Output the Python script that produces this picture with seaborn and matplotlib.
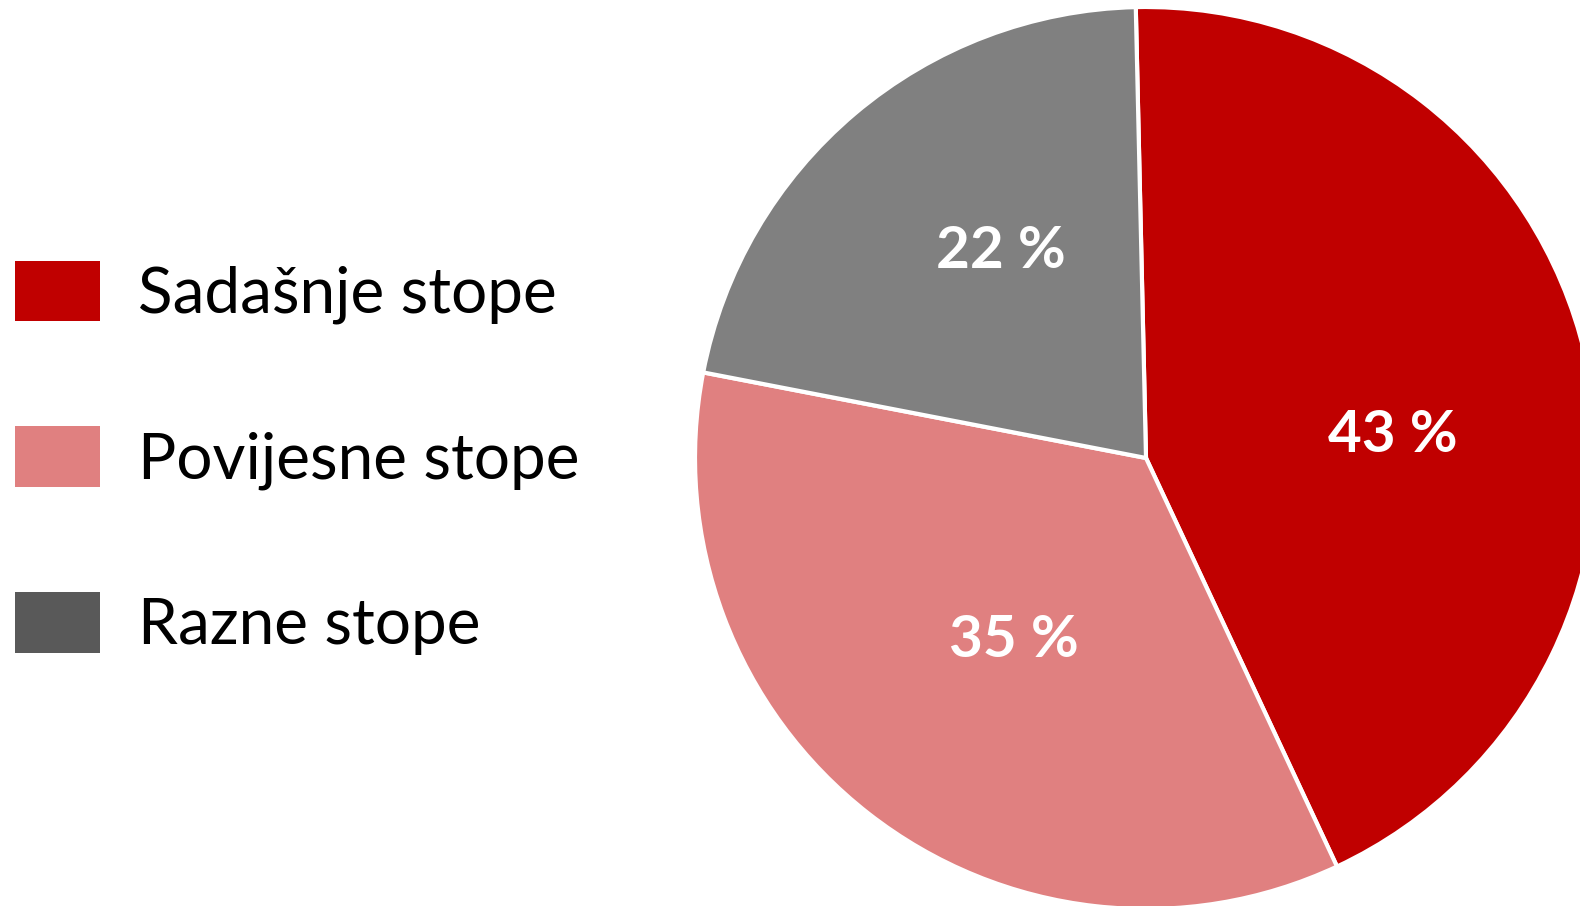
import numpy as np
import matplotlib
matplotlib.use("Agg")
import matplotlib.pyplot as plt
import matplotlib.patches as patches
import seaborn as sns

# data
labels = ["Sadašnje stope", "Povijesne stope", "Razne stope"]
shares = [43.4, 35.0, 21.6]
pie_colors = ["#C00000", "#E08080", "#808080"]
legend_colors = ["#C00000", "#E08080", "#595959"]

sns.set_theme(style="white")
plt.rcParams['font.family'] = ['Lato', 'DejaVu Sans']

fig = plt.figure(figsize=(15.8, 9.06), dpi=100)

# pie axes, square box so the pie fills it (clipped on the right like the original)
ax = fig.add_axes([695 / 1580, -3 / 906, 902 / 1580, 902 / 906])
wedges, texts, autotexts = ax.pie(
    shares,
    colors=pie_colors,
    startangle=91.3,
    counterclock=False,
    autopct=lambda p: "%d %%" % round(p),
    pctdistance=0.56,
    wedgeprops=dict(edgecolor="white", linewidth=3),
    textprops=dict(color="white", fontsize=42, fontweight="bold"),
)

# nudge labels a bit like the original (angle shift in degrees, radius)
shift = [-8, 2, -5]
dist = [0.55, 0.50, 0.56]
for w, t, s, r in zip(wedges, autotexts, shift, dist):
    a = np.deg2rad((w.theta1 + w.theta2) / 2 + s)
    t.set_position((r * np.cos(a), r * np.sin(a)))

ax.set_xlim(-1, 1)
ax.set_ylim(-1, 1)
ax.set_aspect("equal")
ax.axis("off")

# legend with its own colours (the third swatch is darker than the slice)
handles = [patches.Patch(facecolor=c, edgecolor="none") for c in legend_colors]
leg = fig.legend(
    handles, labels,
    loc="center left",
    bbox_to_anchor=(0.0, 0.4945),
    frameon=False,
    fontsize=46,
    handlelength=1.33,
    handleheight=1.08,
    handletextpad=0.6,
    labelspacing=1.6,
    borderaxespad=0.0,
    borderpad=0.23,
)
for t in leg.get_texts():
    t.set_color("black")

fig.savefig("out.png", dpi=100)
